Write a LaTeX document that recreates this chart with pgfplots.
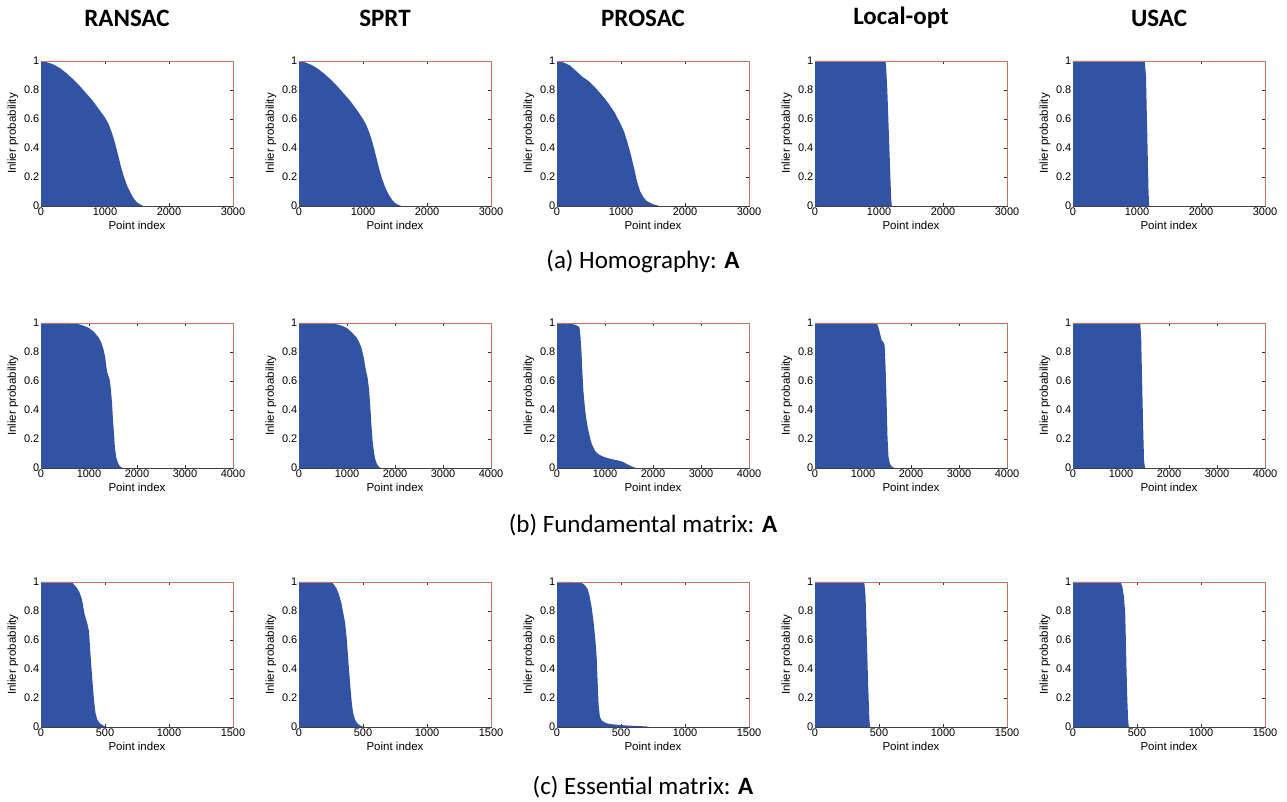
\documentclass[border=0pt]{standalone}
\usepackage{fontspec}
\setmainfont{Carlito}
\newfontfamily\plotfont{Liberation Sans}
\usepackage{pgfplots}
\pgfplotsset{compat=1.18}

\definecolor{fillblue}{RGB}{50,82,164}
\definecolor{framered}{RGB}{190,120,100}

\pgfplotsset{panel/.style={
    scale only axis, width=192pt, height=145pt, anchor=south west,
    xmin=0, ymin=0, ymax=1,
    ytick={0,0.2,0.4,0.6,0.8,1},
    tick align=inside, tick pos=both, major tick length=3pt,
    tick style={black!80, line width=0.5pt},
    axis line style={black!75, line width=0.6pt},
    ticklabel style={font=\plotfont\fontsize{11}{11}\selectfont, inner sep=1.5pt},
    /pgf/number format/assume math mode=true,
    /pgf/number format/1000 sep={},
    scaled ticks=false,
    yticklabel style={/pgf/number format/fixed},
    xlabel={Point index}, ylabel={Inlier probability},
    every axis x label/.style={at={(rel axis cs:0.5,0)}, yshift=-19pt, anchor=center,
        font=\plotfont\fontsize{11.5}{11.5}\selectfont},
    every axis y label/.style={at={(rel axis cs:0,0.5)}, xshift=-28pt, rotate=90, anchor=center,
        font=\plotfont\fontsize{11.5}{11.5}\selectfont},
    after end axis/.code={\draw[framered, line width=0.6pt]
        (rel axis cs:0,1) -- (rel axis cs:1,1) -- (rel axis cs:1,0);},
}}

% #1 column, #2 bottom edge, #3 xmax, #4 xticks, #5 sorted inlier probabilities
\newcommand{\panel}[5]{%
  \begin{axis}[panel, at={(41pt+#1*258pt,#2pt)}, xmax=#3, xtick={#4}]
    \addplot[fill=fillblue, draw=none] coordinates {#5} \closedcycle;
  \end{axis}}

\begin{document}
\begin{tikzpicture}
\useasboundingbox (0,0) rectangle (1287pt,802pt);

% column titles
\foreach \t [count=\i from 0] in {RANSAC,SPRT,PROSAC,Local-opt,USAC}
  \node[font=\fontsize{25}{25}\selectfont\bfseries] at (127pt+\i*258pt,784pt) {\t};

% (a) homography
\def\xta{0,1000,2000,3000}
\panel{0}{596}{3000}{\xta}{(0,1) (100,0.99) (200,0.975) (300,0.95) (400,0.915) (500,0.875)
  (600,0.83) (700,0.78) (800,0.73) (900,0.67) (1000,0.61) (1050,0.57) (1100,0.515)
  (1150,0.445) (1200,0.36) (1250,0.27) (1300,0.195) (1350,0.135) (1400,0.09) (1450,0.05)
  (1500,0.025) (1550,0.01) (1600,0)}
\panel{1}{596}{3000}{\xta}{(0,1) (100,0.99) (200,0.972) (300,0.945) (400,0.91) (500,0.87)
  (600,0.825) (700,0.775) (800,0.725) (900,0.665) (1000,0.6) (1050,0.56) (1100,0.505)
  (1150,0.435) (1200,0.35) (1250,0.26) (1300,0.185) (1350,0.125) (1400,0.08) (1450,0.045)
  (1500,0.02) (1550,0.008) (1600,0)}
\panel{2}{596}{3000}{\xta}{(0,1) (100,0.99) (200,0.97) (300,0.93) (400,0.89) (500,0.86)
  (600,0.815) (700,0.765) (800,0.71) (900,0.645) (1000,0.56) (1050,0.51) (1100,0.44)
  (1150,0.36) (1200,0.27) (1250,0.17) (1300,0.10) (1350,0.06) (1400,0.035)
  (1500,0.012) (1600,0)}
\panel{3}{596}{3000}{\xta}{(0,1) (1100,1) (1110,0.97) (1130,0.8) (1150,0.55) (1170,0.3)
  (1190,0.05) (1200,0)}
\panel{4}{596}{3000}{\xta}{(0,1) (1120,1) (1140,0.9) (1160,0.5) (1180,0.1) (1190,0)}
\node[font=\fontsize{25}{25}\selectfont] at (643pt,540pt) {(a) Homography: \textbf{A}};

% (b) fundamental matrix
\def\xtb{0,1000,2000,3000,4000}
\panel{0}{334}{4000}{\xtb}{(0,1) (600,1) (700,0.997) (800,0.99) (900,0.98) (1000,0.965)
  (1100,0.94) (1200,0.9) (1250,0.87) (1300,0.82) (1340,0.76) (1360,0.70) (1380,0.66)
  (1400,0.64) (1430,0.61) (1450,0.56) (1480,0.45) (1500,0.33) (1520,0.24) (1540,0.14)
  (1570,0.07) (1610,0.03) (1650,0.01) (1700,0)}
\panel{1}{334}{4000}{\xtb}{(0,1) (600,1) (700,0.997) (800,0.99) (900,0.98) (1000,0.965)
  (1100,0.935) (1200,0.9) (1250,0.87) (1300,0.83) (1350,0.76) (1380,0.70) (1410,0.65)
  (1430,0.62) (1460,0.54) (1490,0.40) (1510,0.29) (1530,0.2) (1550,0.14) (1580,0.07)
  (1620,0.03) (1660,0.01) (1700,0)}
\panel{2}{334}{4000}{\xtb}{(0,1) (200,1) (300,0.995) (400,0.985) (470,0.97) (490,0.9)
  (510,0.8) (530,0.65) (550,0.53) (580,0.42) (610,0.34) (640,0.28) (680,0.22) (720,0.17)
  (760,0.14) (800,0.115) (860,0.095) (950,0.08) (1060,0.068) (1150,0.06) (1270,0.052)
  (1350,0.045) (1420,0.033) (1500,0.02) (1560,0.01) (1650,0)}
\panel{3}{334}{4000}{\xtb}{(0,1) (1250,1) (1300,0.99) (1330,0.96) (1360,0.92) (1390,0.88)
  (1420,0.87) (1450,0.85) (1470,0.7) (1490,0.48) (1510,0.22) (1530,0.08) (1560,0.03)
  (1600,0.01) (1660,0)}
\panel{4}{334}{4000}{\xtb}{(0,1) (1400,1) (1420,0.9) (1440,0.6) (1460,0.3) (1480,0.05)
  (1500,0)}
\node[font=\fontsize{25}{25}\selectfont] at (643pt,277pt) {(b) Fundamental matrix: \textbf{A}};

% (c) essential matrix
\def\xtc{0,500,1000,1500}
\panel{0}{75}{1500}{\xtc}{(0,1) (240,1) (260,0.98) (280,0.96) (300,0.93) (320,0.88)
  (340,0.78) (360,0.72) (375,0.66) (385,0.52) (395,0.4) (405,0.28) (415,0.18) (425,0.1)
  (440,0.05) (460,0.025) (490,0.008) (515,0)}
\panel{1}{75}{1500}{\xtc}{(0,1) (250,1) (270,0.985) (290,0.96) (310,0.92) (330,0.86)
  (345,0.79) (360,0.72) (372,0.62) (382,0.5) (392,0.38) (402,0.27) (412,0.17) (422,0.1)
  (438,0.05) (458,0.022) (485,0.007) (510,0)}
\panel{2}{75}{1500}{\xtc}{(0,1) (130,1) (170,0.997) (200,0.99) (220,0.975) (240,0.95)
  (255,0.9) (270,0.83) (285,0.73) (300,0.6) (310,0.48) (318,0.3) (325,0.15) (335,0.07)
  (350,0.045) (380,0.027) (420,0.02) (470,0.015) (550,0.01) (620,0.007) (700,0.004)
  (720,0)}
\panel{3}{75}{1500}{\xtc}{(0,1) (385,1) (395,0.9) (405,0.6) (415,0.3) (425,0.05) (430,0)}
\panel{4}{75}{1500}{\xtc}{(0,1) (370,1) (385,0.97) (398,0.9) (408,0.78) (413,0.6)
  (418,0.4) (424,0.2) (430,0.06) (436,0)}
\node[font=\fontsize{25}{25}\selectfont] at (643pt,15pt) {(c) Essential matrix: \textbf{A}};
\end{tikzpicture}
\end{document}
